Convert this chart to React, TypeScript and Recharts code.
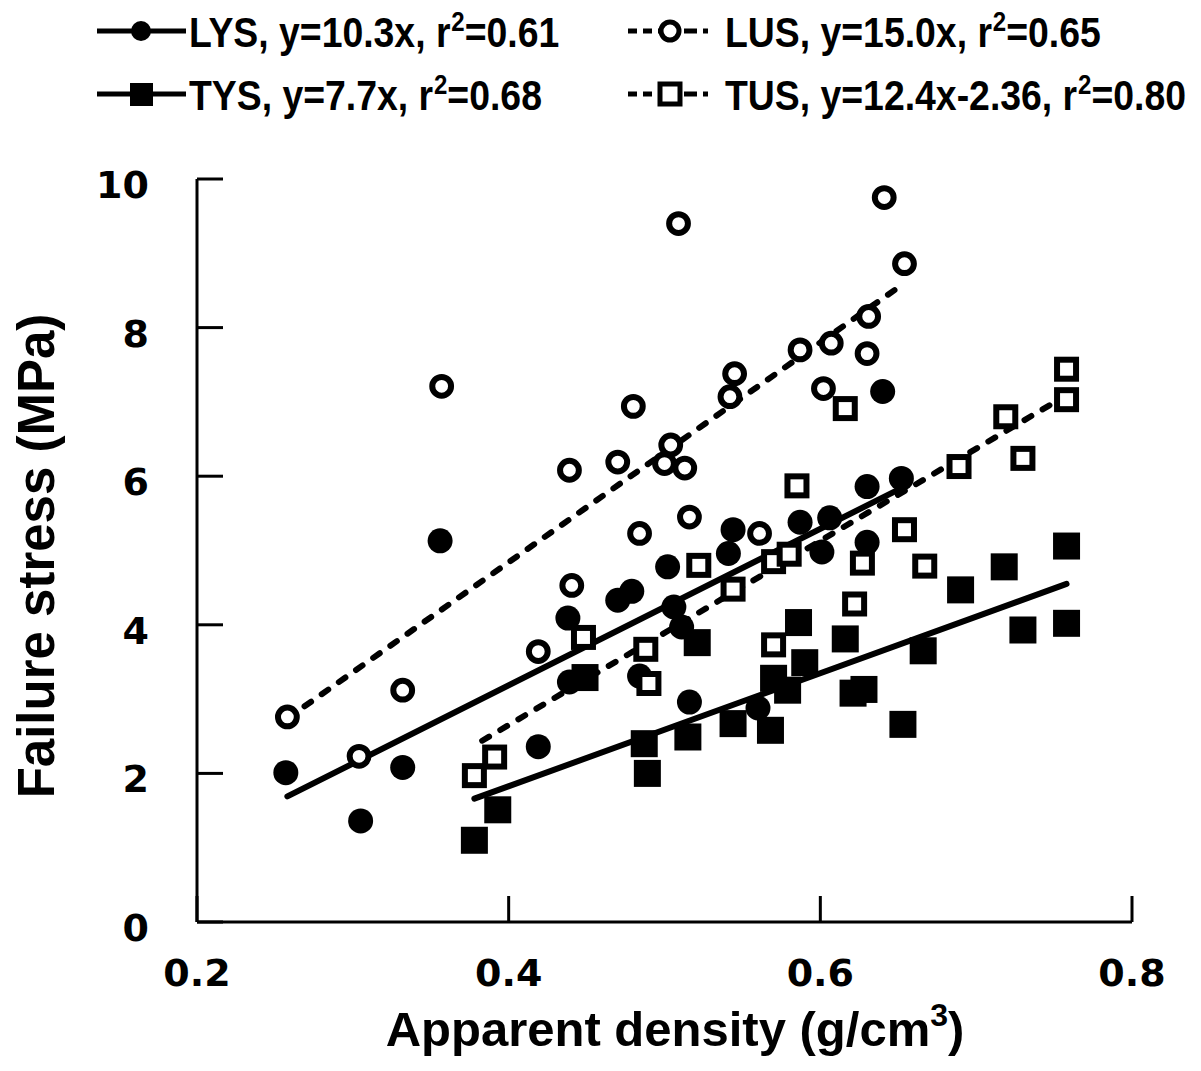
import React from 'react';
import { ScatterChart, Scatter, XAxis, YAxis } from 'recharts';

const W = 1185;
const H = 1055;

const xTicks = [0.2, 0.4, 0.6, 0.8];
const xTickLabels = ['0.2', '0.4', '0.6', '0.8'];
const yTicks = [0, 2, 4, 6, 8, 10];
const yTickLabels = ['0', '2', '4', '6', '8', '10'];

const xTitle = 'Apparent density (g/cm';
const xTitleSup = '3';
const yTitle = 'Failure stress (MPa)';

const lysPoints = [
  { x: 0.257, y: 2.01 }, { x: 0.305, y: 1.36 }, { x: 0.332, y: 2.08 }, { x: 0.356, y: 5.13 },
  { x: 0.419, y: 2.36 }, { x: 0.438, y: 4.09 }, { x: 0.439, y: 3.23 }, { x: 0.470, y: 4.33 },
  { x: 0.479, y: 4.45 }, { x: 0.484, y: 3.31 }, { x: 0.502, y: 4.78 }, { x: 0.506, y: 4.24 },
  { x: 0.511, y: 3.97 }, { x: 0.516, y: 2.96 }, { x: 0.541, y: 4.96 }, { x: 0.544, y: 5.28 },
  { x: 0.560, y: 2.88 }, { x: 0.587, y: 5.38 }, { x: 0.601, y: 4.98 }, { x: 0.606, y: 5.44 },
  { x: 0.630, y: 5.11 }, { x: 0.630, y: 5.86 }, { x: 0.640, y: 7.14 }, { x: 0.652, y: 5.97 },
];

const lusPoints = [
  { x: 0.258, y: 2.76 }, { x: 0.304, y: 2.23 }, { x: 0.332, y: 3.12 }, { x: 0.357, y: 7.21 },
  { x: 0.419, y: 3.64 }, { x: 0.439, y: 6.08 }, { x: 0.4405, y: 4.53 }, { x: 0.470, y: 6.19 },
  { x: 0.480, y: 6.94 }, { x: 0.484, y: 5.23 }, { x: 0.500, y: 6.17 }, { x: 0.504, y: 6.42 },
  { x: 0.509, y: 9.40 }, { x: 0.513, y: 6.11 }, { x: 0.516, y: 5.45 }, { x: 0.542, y: 7.07 },
  { x: 0.545, y: 7.38 }, { x: 0.561, y: 5.23 }, { x: 0.587, y: 7.70 }, { x: 0.602, y: 7.18 },
  { x: 0.607, y: 7.79 }, { x: 0.630, y: 7.65 }, { x: 0.631, y: 8.15 }, { x: 0.641, y: 9.75 },
  { x: 0.654, y: 8.86 },
];

const tusPoints = [
  { x: 0.378, y: 1.97 }, { x: 0.391, y: 2.22 }, { x: 0.448, y: 3.83 }, { x: 0.488, y: 3.67 },
  { x: 0.490, y: 3.21 }, { x: 0.522, y: 4.80 }, { x: 0.544, y: 4.48 }, { x: 0.570, y: 3.73 },
  { x: 0.570, y: 4.85 }, { x: 0.580, y: 4.95 }, { x: 0.585, y: 5.87 }, { x: 0.616, y: 6.91 },
  { x: 0.622, y: 4.28 }, { x: 0.627, y: 4.83 }, { x: 0.654, y: 5.28 }, { x: 0.667, y: 4.79 },
  { x: 0.689, y: 6.13 }, { x: 0.719, y: 6.80 }, { x: 0.730, y: 6.24 }, { x: 0.758, y: 7.44 },
  { x: 0.758, y: 7.03 },
];

const tysPoints = [
  { x: 0.378, y: 1.10 }, { x: 0.393, y: 1.51 }, { x: 0.449, y: 3.29 }, { x: 0.487, y: 2.40 },
  { x: 0.489, y: 2.00 }, { x: 0.515, y: 2.49 }, { x: 0.521, y: 3.76 }, { x: 0.544, y: 2.67 },
  { x: 0.568, y: 2.58 }, { x: 0.570, y: 3.28 }, { x: 0.579, y: 3.12 }, { x: 0.586, y: 4.03 },
  { x: 0.590, y: 3.49 }, { x: 0.616, y: 3.81 }, { x: 0.621, y: 3.08 }, { x: 0.628, y: 3.13 },
  { x: 0.653, y: 2.66 }, { x: 0.666, y: 3.65 }, { x: 0.690, y: 4.47 }, { x: 0.718, y: 4.78 },
  { x: 0.730, y: 3.93 }, { x: 0.758, y: 4.02 }, { x: 0.758, y: 5.06 },
];

const lysFit = [{ x: 0.258, y: 1.69 }, { x: 0.653, y: 5.85 }];
const lusFit = [{ x: 0.258, y: 2.74 }, { x: 0.652, y: 8.57 }];
const tysFit = [{ x: 0.378, y: 1.66 }, { x: 0.758, y: 4.55 }];
const tusFit = [{ x: 0.383, y: 2.44 }, { x: 0.758, y: 7.09 }];

const legendNames = ['LYS, y=10.3x, r', 'LUS, y=15.0x, r', 'TYS, y=7.7x, r', 'TUS, y=12.4x-2.36, r'];
const legendR2 = ['=0.61', '=0.65', '=0.68', '=0.80'];

const FONT = "'Liberation Sans', Arial, Helvetica, sans-serif";
const TICKFONT = "'DejaVu Sans', sans-serif";

const FilledCircle = (p: any) => <circle cx={p.cx} cy={p.cy} r={12.5} fill="#000" />;
const OpenCircle = (p: any) => (
  <circle cx={p.cx} cy={p.cy} r={9.4} fill="#fff" stroke="#000" strokeWidth={6} />
);
const FilledSquare = (p: any) => (
  <rect x={p.cx - 13.5} y={p.cy - 13.5} width={27} height={27} fill="#000" />
);
const OpenSquare = (p: any) => (
  <rect x={p.cx - 9.5} y={p.cy - 9.5} width={19} height={19} fill="#fff" stroke="#000" strokeWidth={6} />
);
const NoShape = () => <g />;

const YTick = (props: any) => {
  const { x, y, payload } = props;
  const label = yTickLabels[yTicks.indexOf(payload.value)];
  return (
    <g>
      <line x1={x} x2={x + 26} y1={y} y2={y} stroke="#000" strokeWidth={3} />
      <text x={x - 48} y={y + 19} textAnchor="end" fontFamily={TICKFONT} fontWeight="bold" fontSize={38} fill="#000">
        {label}
      </text>
    </g>
  );
};

const XTick = (props: any) => {
  const { x, y, payload } = props;
  const label = xTickLabels[xTicks.indexOf(payload.value)];
  return (
    <g>
      <line x1={x} x2={x} y1={y} y2={y - 26} stroke="#000" strokeWidth={3} />
      <text x={x} y={y + 64} textAnchor="middle" fontFamily={TICKFONT} fontWeight="bold" fontSize={38} fill="#000">
        {label}
      </text>
    </g>
  );
};

const LegendText = ({ x, y, i }: any) => (
  <g transform={`translate(${x},${y}) scale(0.89,1)`}>
    <text x={0} y={0} fontFamily={FONT} fontWeight="bold" fontSize={42} fill="#000">
      {legendNames[i]}
      <tspan fontSize={27} dy={-16} dx={1}>2</tspan>
      <tspan dy={16}>{legendR2[i]}</tspan>
    </text>
  </g>
);

const Overlay = () => (
  <svg width={W} height={H} style={{ position: 'absolute', left: 0, top: 0, pointerEvents: 'none', overflow: 'visible' }}>
    {/* Legend row 1 left: LYS */}
    <line x1={89} x2={178} y1={23} y2={23} stroke="#000" strokeWidth={5} />
    <circle cx={133} cy={23} r={10} fill="#000" />
    <LegendText x={181} y={39} i={0} />
    {/* Legend row 1 right: LUS */}
    <line x1={620} x2={655} y1={23} y2={23} stroke="#000" strokeWidth={5} strokeDasharray="9 6" />
    <line x1={676} x2={706} y1={23} y2={23} stroke="#000" strokeWidth={5} strokeDasharray="13 6 5 100" />
    <circle cx={662} cy={23} r={9} fill="#fff" stroke="#000" strokeWidth={5} />
    <LegendText x={717} y={39} i={1} />
    {/* Legend row 2 left: TYS */}
    <line x1={89} x2={178} y1={86} y2={86} stroke="#000" strokeWidth={5} />
    <rect x={122} y={75} width={23} height={23} fill="#000" />
    <LegendText x={181} y={102} i={2} />
    {/* Legend row 2 right: TUS */}
    <line x1={620} x2={655} y1={86} y2={86} stroke="#000" strokeWidth={5} strokeDasharray="9 6" />
    <line x1={676} x2={706} y1={86} y2={86} stroke="#000" strokeWidth={5} strokeDasharray="13 6 5 100" />
    <rect x={652} y={76} width={20} height={20} fill="#fff" stroke="#000" strokeWidth={5} />
    <LegendText x={717} y={102} i={3} />
    {/* Axis titles */}
    <text transform="translate(46,548) rotate(-90)" textAnchor="middle" fontFamily={FONT} fontWeight="bold" fontSize={51} fill="#000">
      {yTitle}
    </text>
    <text x={667} y={1038} textAnchor="middle" fontFamily={FONT} fontWeight="bold" fontSize={49} fill="#000">
      {xTitle}
      <tspan fontSize={32} dy={-20}>{xTitleSup}</tspan>
      <tspan dy={20}>)</tspan>
    </text>
  </svg>
);

export default function App() {
  const solid = { stroke: '#000', strokeWidth: 6, strokeLinecap: 'round' as const };
  const dashed = { stroke: '#000', strokeWidth: 6, strokeLinecap: 'round' as const, strokeDasharray: '8 13' };
  return (
    <div style={{ position: 'relative', width: W, height: H, background: '#fff' }}>
      <ScatterChart width={W} height={H} margin={{ top: 171, right: 61, bottom: 101, left: 0 }}>
        <XAxis
          type="number"
          dataKey="x"
          domain={[0.2, 0.8]}
          ticks={xTicks}
          height={40}
          tickSize={0}
          tickMargin={0}
          tickLine={false}
          axisLine={{ stroke: '#000', strokeWidth: 3 }}
          tick={XTick}
          allowDataOverflow
          interval={0}
        />
        <YAxis
          type="number"
          dataKey="y"
          domain={[0, 10]}
          ticks={yTicks}
          width={189}
          tickSize={0}
          tickMargin={0}
          tickLine={false}
          axisLine={{ stroke: '#000', strokeWidth: 3 }}
          tick={YTick}
          allowDataOverflow
          interval={0}
        />
        <Scatter data={lysFit} line={solid} shape={NoShape} isAnimationActive={false} legendType="none" />
        <Scatter data={lysPoints} shape={FilledCircle} isAnimationActive={false} />
        <Scatter data={lusFit} line={dashed} shape={NoShape} isAnimationActive={false} legendType="none" />
        <Scatter data={lusPoints} shape={OpenCircle} isAnimationActive={false} />
        <Scatter data={tysFit} line={solid} shape={NoShape} isAnimationActive={false} legendType="none" />
        <Scatter data={tysPoints} shape={FilledSquare} isAnimationActive={false} />
        <Scatter data={tusFit} line={dashed} shape={NoShape} isAnimationActive={false} legendType="none" />
        <Scatter data={tusPoints} shape={OpenSquare} isAnimationActive={false} />
      </ScatterChart>
      <Overlay />
    </div>
  );
}
